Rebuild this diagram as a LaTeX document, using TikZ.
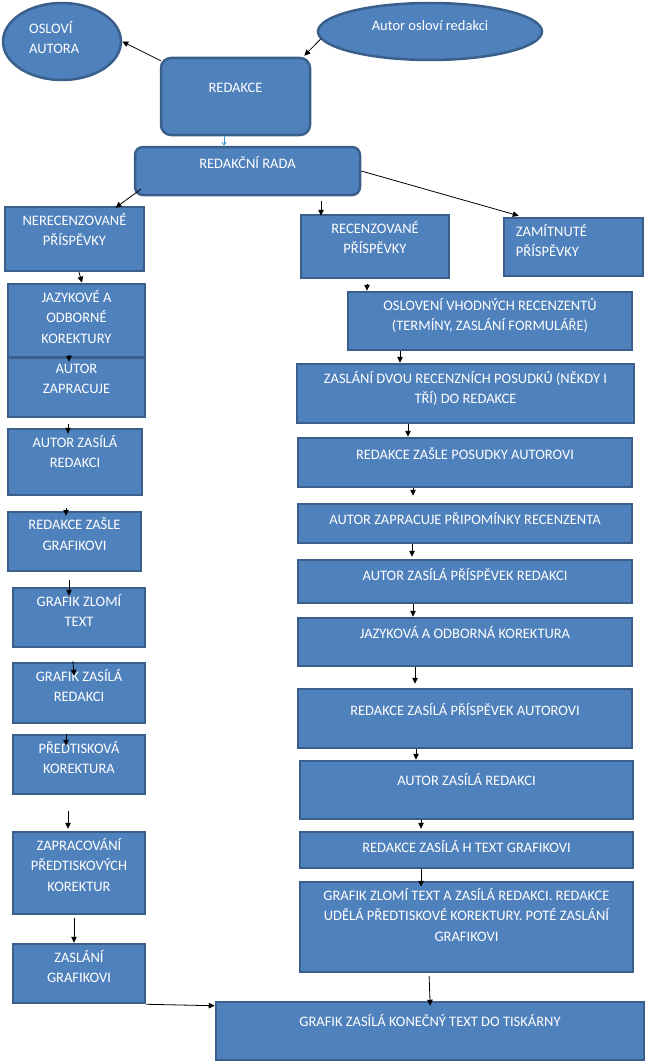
\documentclass[tikz,border=0pt]{standalone}
\usepackage{fontspec}
\setmainfont{Carlito}
\usetikzlibrary{arrows.meta,shapes.geometric}
\definecolor{boxfill}{HTML}{4F81BD}
\definecolor{boxline}{HTML}{3A5F8B}
\begin{document}
\begin{tikzpicture}[x=1pt,y=-1pt,
    box/.style={draw=boxline,fill=boxfill,line width=2.5pt,inner sep=0pt},
    oval/.style={box,ellipse},
    txt/.style={text=white,font=\fontsize{14.5}{20.5}\selectfont,align=center,
      inner sep=0pt,anchor=north,yshift=-7pt,execute at begin node=\strut},
    arr/.style={-{Triangle[length=6pt,width=5.5pt]},line width=0.8pt,black},
    thinarr/.style={-{Straight Barb[length=3pt,width=4pt]},line width=0.8pt,boxfill!80!cyan}]
  \useasboundingbox (0,0) rectangle (646,1062);
  % top part
  \node[oval,minimum width=118pt,minimum height=77pt] (osl) at (62,41.5) {};
  \node[txt,align=left,anchor=north west,yshift=7pt] (osl-t) at (29,21) {OSLOVÍ\\AUTORA};
  \node[oval,minimum width=224pt,minimum height=57pt] (aut) at (430,31.5) {};
  \node[txt,yshift=7pt] (aut-t) at (430,16) {Autor osloví redakci};
  \node[box,rounded corners=10pt,minimum width=149pt,minimum height=77pt] (red) at (235.5,96.5) {};
  \node[txt,yshift=-14pt] (red-t) at (red.north) {REDAKCE};
  \node[box,rounded corners=8pt,minimum width=225pt,minimum height=48pt] (rada) at (247.5,171) {};
  \node[txt,yshift=-1pt] (rada-t) at (rada.north) {REDAKČNÍ RADA};
  % left column
  \node[box,minimum width=139pt,minimum height=64pt] (nerec) at (74.5,239) {};
  \node[txt] (nerec-t) at (nerec.north) {NERECENZOVANÉ\\PŘÍSPĚVKY};
  \node[box,minimum width=137pt,minimum height=73pt] (jazyk) at (76.5,320.5) {};
  \node[txt] (jazyk-t) at (jazyk.north) {JAZYKOVÉ A\\ODBORNÉ\\KOREKTURY};
  \node[box,minimum width=137pt,minimum height=59pt] (zapr) at (76.5,387.5) {};
  \node[txt] (zapr-t) at (zapr.north) {AUTOR\\ZAPRACUJE};
  \node[box,minimum width=134pt,minimum height=66pt] (zasila) at (75,462) {};
  \node[txt] (zasila-t) at (zasila.north) {AUTOR ZASÍLÁ\\REDAKCI};
  \node[box,minimum width=133pt,minimum height=59pt] (rzasle) at (74.5,541.5) {};
  \node[txt] (rzasle-t) at (rzasle.north) {REDAKCE ZAŠLE\\GRAFIKOVI};
  \node[box,minimum width=132pt,minimum height=59pt] (gzlomi) at (79,617.5) {};
  \node[txt] (gzlomi-t) at (gzlomi.north) {GRAFIK ZLOMÍ\\TEXT};
  \node[box,minimum width=132pt,minimum height=60pt] (gzasila) at (79,693) {};
  \node[txt] (gzasila-t) at (gzasila.north) {GRAFIK ZASÍLÁ\\REDAKCI};
  \node[box,minimum width=132pt,minimum height=59pt] (predt) at (79,764.5) {};
  \node[txt] (predt-t) at (predt.north) {PŘEDTISKOVÁ\\KOREKTURA};
  \node[box,minimum width=132pt,minimum height=82pt] (zaprac) at (79,873) {};
  \node[txt] (zaprac-t) at (zaprac.north) {ZAPRACOVÁNÍ\\PŘEDTISKOVÝCH\\KOREKTUR};
  \node[box,minimum width=132pt,minimum height=59pt] (zaslgr) at (79,973.5) {};
  \node[txt] (zaslgr-t) at (zaslgr.north) {ZASLÁNÍ\\GRAFIKOVI};
  \node[box,minimum width=428pt,minimum height=58pt] (final) at (430,1031) {};
  \node[txt,yshift=-4pt] (final-t) at (final.north) {GRAFIK ZASÍLÁ KONEČNÝ TEXT DO TISKÁRNY};
  % right column
  \node[box,minimum width=148pt,minimum height=63pt] (recenz) at (375,246.5) {};
  \node[txt] (recenz-t) at (recenz.north) {RECENZOVANÉ\\PŘÍSPĚVKY};
  \node[box,minimum width=139pt,minimum height=58pt] (zamit) at (573.5,247) {};
  \node[txt,align=left,anchor=north west] (zamit-t) at ([xshift=13pt]zamit.north west) {ZAMÍTNUTÉ\\PŘÍSPĚVKY};
  \node[box,minimum width=284pt,minimum height=58pt] (osloveni) at (490,321) {};
  \node[txt] (osloveni-t) at (osloveni.north) {OSLOVENÍ VHODNÝCH RECENZENTŮ\\(TERMÍNY, ZASLÁNÍ FORMULÁŘE)};
  \node[box,minimum width=337pt,minimum height=59pt] (dvou) at (465.5,393.5) {};
  \node[txt,yshift=-1pt] (dvou-t) at (dvou.north) {ZASLÁNÍ DVOU RECENZNÍCH POSUDKŮ (NĚKDY I\\TŘÍ) DO REDAKCE};
  \node[box,minimum width=334pt,minimum height=49pt] (posudky) at (465,462.5) {};
  \node[txt,yshift=-1pt] (posudky-t) at (posudky.north) {REDAKCE ZAŠLE POSUDKY AUTOROVI};
  \node[box,minimum width=334pt,minimum height=39pt] (pripom) at (465,523.5) {};
  \node[txt] (pripom-t) at (pripom.north) {AUTOR ZAPRACUJE PŘIPOMÍNKY RECENZENTA};
  \node[box,minimum width=334pt,minimum height=43pt] (prispev) at (465,581.5) {};
  \node[txt] (prispev-t) at (prispev.north) {AUTOR ZASÍLÁ PŘÍSPĚVEK REDAKCI};
  \node[box,minimum width=334pt,minimum height=48pt] (korekt) at (465,642) {};
  \node[txt] (korekt-t) at (korekt.north) {JAZYKOVÁ A ODBORNÁ KOREKTURA};
  \node[box,minimum width=334pt,minimum height=59pt] (autorovi) at (465,718.5) {};
  \node[txt,yshift=-6pt] (autorovi-t) at (autorovi.north) {REDAKCE ZASÍLÁ PŘÍSPĚVEK AUTOROVI};
  \node[box,minimum width=333pt,minimum height=58pt] (autzas) at (466.5,790) {};
  \node[txt,yshift=-4pt] (autzas-t) at (autzas.north) {AUTOR ZASÍLÁ REDAKCI};
  \node[box,minimum width=333pt,minimum height=36pt] (htext) at (466.5,850) {};
  \node[txt] (htext-t) at (htext.north) {REDAKCE ZASÍLÁ H TEXT GRAFIKOVI};
  \node[box,minimum width=333pt,minimum height=90pt] (zlomi2) at (466.5,927) {};
  \node[txt] (zlomi2-t) at (zlomi2.north) {GRAFIK ZLOMÍ TEXT A ZASÍLÁ REDAKCI. REDAKCE\\UDĚLÁ PŘEDTISKOVÉ KOREKTURY. POTÉ ZASLÁNÍ\\GRAFIKOVI};
  % connectors at the top
  \draw[arr] ([xshift=1pt,yshift=-4pt]red.north west) -- (osl.east);
  \draw[arr] (aut.184) -- ([xshift=-7pt,yshift=1pt]red.north east);
  \draw[thinarr] (224,0 |- red.south) -- (224,0 |- rada.north);
  \draw[arr] ([xshift=7pt,yshift=7pt]rada.south west) -- ([xshift=41pt,yshift=-2pt]nerec.north);
  \draw[arr,shorten <=5pt,shorten >=-2pt] (321,0 |- rada.south) -- (321,0 |- recenz.north);
  \draw[arr] (rada.east) -- ([xshift=16pt,yshift=1pt]zamit.north west);
  % left column
  \draw[arr] (79,0 |- nerec.south) -- (82,0 |- jazyk.north);
  \draw[arr] ([xshift=-7.5pt,yshift=3pt]jazyk.south) -- ([xshift=-7.5pt,yshift=-5pt]zapr.north);
  \draw[arr,shorten <=6pt,shorten >=-6pt] (68,0 |- zapr.south) -- (68,0 |- zasila.north);
  \draw[arr,shorten <=12pt,shorten >=-5pt] (66,0 |- zasila.south) -- (66,0 |- rzasle.north);
  \draw[arr,shorten <=8pt,shorten >=-9pt] (69,0 |- rzasle.south) -- (69,0 |- gzlomi.north);
  \draw[arr,shorten <=13pt,shorten >=-14pt] (72,0 |- gzlomi.south) -- (73,0 |- gzasila.north);
  \draw[arr,shorten <=10pt,shorten >=-12pt] (66,0 |- gzasila.south) -- (66,0 |- predt.north);
  \draw[arr,shorten <=16pt,shorten >=2pt] (68,0 |- predt.south) -- (68,0 |- zaprac.north);
  \draw[arr,shorten <=3pt] (74,0 |- zaprac.south) -- (74,0 |- zaslgr.north);
  \draw[arr] (zaslgr.south east) -- ([yshift=-5pt]final.north west);
  % right column
  \draw[arr,shorten <=5pt] (367,0 |- recenz.south) -- (367,0 |- osloveni.north);
  \draw[arr] (400,0 |- osloveni.south) -- (400,0 |- dvou.north);
  \draw[arr] (408,0 |- dvou.south) -- (408,0 |- posudky.north);
  \draw[arr,shorten >=7pt] (413,0 |- posudky.south) -- (413,0 |- pripom.north);
  \draw[arr,shorten >=2pt] (412,0 |- pripom.south) -- (412,0 |- prispev.north);
  \draw[arr] (413,0 |- prispev.south) -- (413,0 |- korekt.north);
  \draw[arr,shorten >=4pt] (415,0 |- korekt.south) -- (415,0 |- autorovi.north);
  \draw[arr] (416,0 |- autorovi.south) -- (416,0 |- autzas.north);
  \draw[arr,shorten >=2pt] (421,0 |- autzas.south) -- (421,0 |- htext.north);
  \draw[arr,shorten >=-6pt] (421,0 |- htext.south) -- (421,0 |- zlomi2.north);
  \draw[arr,shorten <=3pt,shorten >=-5pt] (429,0 |- zlomi2.south) -- (430,0 |- final.north);
\end{tikzpicture}
\end{document}
